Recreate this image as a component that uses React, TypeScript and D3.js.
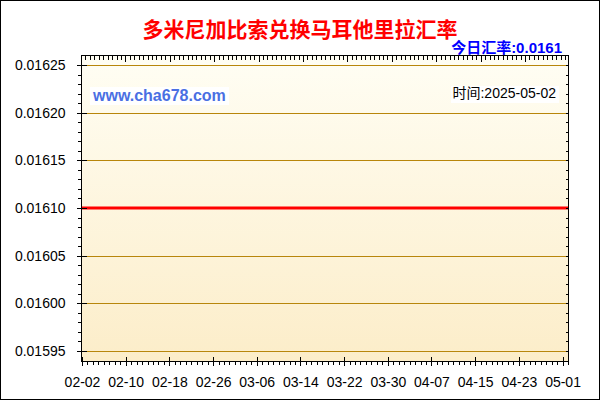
import React, { useRef, useEffect } from "react";
import * as d3 from "d3";

// x axis labels (every 8 days)
const tickDates = [
  "2025-02-02", "2025-02-10", "2025-02-18", "2025-02-26", "2025-03-06", "2025-03-14",
  "2025-03-22", "2025-03-30", "2025-04-07", "2025-04-15", "2025-04-23", "2025-05-01",
];
const tickLabels = [
  "02-02", "02-10", "02-18", "02-26", "03-06", "03-14",
  "03-22", "03-30", "04-07", "04-15", "04-23", "05-01",
];

// rate series (flat at 0.0161 over the whole period)
const rateDates = [
  "2025-02-02", "2025-02-10", "2025-02-18", "2025-02-26", "2025-03-06", "2025-03-14",
  "2025-03-22", "2025-03-30", "2025-04-07", "2025-04-15", "2025-04-23", "2025-05-01",
  "2025-05-02",
];
const rateValues = [
  0.0161, 0.0161, 0.0161, 0.0161, 0.0161, 0.0161,
  0.0161, 0.0161, 0.0161, 0.0161, 0.0161, 0.0161,
  0.0161,
];

const yTicks = [0.01595, 0.016, 0.01605, 0.0161, 0.01615, 0.0162, 0.01625];
const yTickLabels = ["0.01595", "0.01600", "0.01605", "0.01610", "0.01615", "0.01620", "0.01625"];

const title = "多米尼加比索兑换马耳他里拉汇率";
const todayRate = "今日汇率:0.0161";
const dateText = "时间:2025-05-02";
const site = "www.cha678.com";

const W = 600;
const H = 400;
const left = 81;
const right = 568;
const top = 55;
const bottom = 361;

const App: React.FC = () => {
  const svgRef = useRef<SVGSVGElement>(null);

  useEffect(() => {
    const svg = d3.select(svgRef.current);
    svg.selectAll("*").remove();
    const parse = d3.utcParse("%Y-%m-%d");
    const font = "'Liberation Sans', Arial, sans-serif";
    const cjk = "'Noto Sans CJK SC', 'Liberation Sans', sans-serif";
    const mixed = "'Liberation Sans', 'Noto Sans CJK SC', sans-serif";

    const x = d3
      .scaleUtc()
      .domain([parse("2025-02-02")!, parse("2025-05-02")!])
      .range([left + 1, right]);

    const y = d3
      .scaleLinear()
      .domain([0.0159395, 0.0162605])
      .range([bottom, top]);

    const defs = svg.append("defs");
    const grad = defs
      .append("linearGradient")
      .attr("id", "bg")
      .attr("x1", 0).attr("y1", 0).attr("x2", 0).attr("y2", 1);
    grad.append("stop").attr("offset", "0%").attr("stop-color", "#fffef4");
    grad.append("stop").attr("offset", "100%").attr("stop-color", "#fcedc9");

    svg.append("rect")
      .attr("x", 0).attr("y", 0).attr("width", W).attr("height", H)
      .attr("fill", "#fff");

    // plot background
    svg.append("rect")
      .attr("x", left).attr("y", top)
      .attr("width", right - left).attr("height", bottom - top)
      .attr("fill", "url(#bg)");

    // grid lines
    svg.append("g")
      .selectAll("line")
      .data(yTicks)
      .enter()
      .append("line")
      .attr("x1", left).attr("x2", right)
      .attr("y1", (d) => Math.round(y(d)) + 0.5)
      .attr("y2", (d) => Math.round(y(d)) + 0.5)
      .attr("stroke", "#b8860b")
      .attr("stroke-width", 1);

    // watermark + date boxes
    svg.append("rect").attr("x", 90).attr("y", 87).attr("width", 139).attr("height", 18).attr("fill", "#fff");
    svg.append("text")
      .attr("x", 93).attr("y", 101)
      .attr("font-family", font).attr("font-size", 16).attr("font-weight", "bold")
      .attr("fill", "#4a6fe3")
      .text(site);

    svg.append("rect").attr("x", 451).attr("y", 86).attr("width", 108).attr("height", 17).attr("fill", "#fff");
    svg.append("text")
      .attr("x", 556).attr("y", 98)
      .attr("text-anchor", "end")
      .attr("font-family", mixed).attr("font-size", 14)
      .attr("fill", "#000")
      .text(dateText);

    // rate line
    const line = d3
      .line<number>()
      .x((_, i) => x(parse(rateDates[i])!))
      .y((d) => y(d));
    svg.append("path")
      .datum(rateValues)
      .attr("d", line)
      .attr("fill", "none")
      .attr("stroke", "#ff0000")
      .attr("stroke-width", 3);

    const minorY = d3.range(0, 31).map((i) => 0.01595 + i * 0.00001);
    const days = d3.utcDay.range(parse("2025-02-02")!, parse("2025-05-03")!);
    const topTicks = d3.range(0, 110);
    const xt = d3.scaleLinear().domain([0, 109]).range([left, right - 3]);

    const styleAxis = (g: d3.Selection<SVGGElement, unknown, null, undefined>) => {
      g.select(".domain").remove();
      g.selectAll("line").attr("stroke", "#000").attr("shape-rendering", "crispEdges");
      g.selectAll("text").attr("font-family", font).attr("font-size", 14).attr("fill", "#000");
    };

    // left axis
    svg.append("g")
      .attr("transform", `translate(${left + 0.5},0)`)
      .call(d3.axisLeft(y).tickValues(minorY).tickSize(4).tickFormat(() => ""))
      .call(styleAxis);
    svg.append("g")
      .attr("transform", `translate(${left + 0.5},0)`)
      .call(d3.axisLeft(y).tickValues(yTicks).tickSize(5).tickPadding(11)
        .tickFormat((_, i) => yTickLabels[i]))
      .call(styleAxis);
    svg.append("g")
      .attr("transform", `translate(${left + 0.5},0)`)
      .call(d3.axisRight(y).tickValues(yTicks).tickSize(5).tickFormat(() => ""))
      .call(styleAxis);

    // right axis (inward ticks)
    svg.append("g")
      .attr("transform", `translate(${right + 0.5},0)`)
      .call(d3.axisLeft(y).tickValues(minorY).tickSize(3).tickFormat(() => ""))
      .call(styleAxis);

    // top axis (inward ticks)
    svg.append("g")
      .attr("transform", `translate(0,${top + 0.5})`)
      .call(d3.axisBottom(xt).tickValues(topTicks).tickSize(4).tickFormat(() => ""))
      .call(styleAxis)
      .selectAll<SVGLineElement, number>("line")
      .attr("y2", (d) => (d % 10 === 0 && d > 0 ? 6 : 4));

    // bottom axis
    svg.append("g")
      .attr("transform", `translate(0,${bottom + 0.5})`)
      .call(d3.axisBottom(x).tickValues(days).tickSize(3).tickFormat(() => ""))
      .call(styleAxis);
    svg.append("g")
      .attr("transform", `translate(0,${bottom + 0.5})`)
      .call(d3.axisBottom(x).tickValues(tickDates.map((d) => parse(d)!)).tickSize(4).tickPadding(12)
        .tickFormat((_, i) => tickLabels[i]))
      .call(styleAxis);
    svg.append("g")
      .attr("transform", `translate(0,${bottom + 0.5})`)
      .call(d3.axisTop(x).tickValues(tickDates.map((d) => parse(d)!)).tickSize(5).tickFormat(() => ""))
      .call(styleAxis);

    // plot frame
    svg.append("rect")
      .attr("x", left + 0.5).attr("y", top + 0.5)
      .attr("width", right - left).attr("height", bottom - top)
      .attr("fill", "none").attr("stroke", "#000").attr("stroke-width", 1);

    // titles
    svg.append("text")
      .attr("x", W / 2).attr("y", 37)
      .attr("text-anchor", "middle")
      .attr("font-family", cjk).attr("font-size", 21).attr("font-weight", "bold")
      .attr("fill", "#ff0000")
      .text(title);
    svg.append("text")
      .attr("x", 562).attr("y", 53)
      .attr("text-anchor", "end")
      .attr("font-family", mixed).attr("font-size", 15).attr("font-weight", "bold")
      .attr("fill", "#0000ff")
      .text(todayRate);

    // outer border
    svg.append("rect")
      .attr("x", 0.5).attr("y", 0.5).attr("width", W - 1).attr("height", H - 1)
      .attr("fill", "none").attr("stroke", "#000").attr("stroke-width", 1);
  }, []);

  return (
    <svg
      ref={svgRef}
      width={W}
      height={H}
      style={{ position: "absolute", left: 0, top: 0 }}
    ></svg>
  );
};

export default App;
